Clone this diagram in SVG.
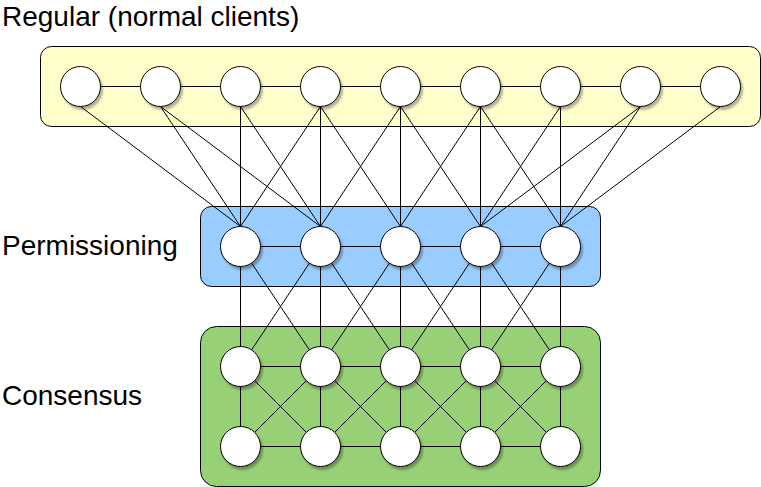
<svg xmlns="http://www.w3.org/2000/svg" width="761" height="487" viewBox="0 0 761 487">
  <style>
    .label { font-family: "Liberation Sans", Arial, sans-serif; font-size: 28px; fill: #000; }
    .box { stroke: #000; stroke-width: 1; }
    .node { fill: #fff; stroke: #000; stroke-width: 1; filter: url(#shadow); }
    .link { stroke: #000; stroke-width: 1; fill: none; }
  </style>
  <defs>
    <filter id="shadow" x="-30%" y="-30%" width="170%" height="170%">
      <feDropShadow dx="2" dy="3" stdDeviation="1" flood-color="#000" flood-opacity="0.3"/>
    </filter>
    <circle id="n" r="20"/>
  </defs>

  <!-- layer labels -->
  <text class="label" x="2" y="26">Regular (normal clients)</text>
  <text class="label" x="2" y="255">Permissioning</text>
  <text class="label" x="2" y="405">Consensus</text>

  <g transform="translate(0.5,0.5)">
    <!-- layer containers -->
    <g id="regular-layer"><rect class="box" x="40" y="46" width="720" height="80" rx="11" fill="#FFFFCC"/></g>
    <g id="permissioning-layer"><rect class="box" x="200" y="206" width="400" height="80" rx="11" fill="#99CCFF"/></g>
    <g id="consensus-layer"><rect class="box" x="200" y="326" width="400" height="160" rx="16" fill="#97D077"/></g>

    <!-- connectors -->
    <g id="connectors" class="link">
      <!-- regular row chain -->
      <path d="M80 86H720"/>
      <!-- regular to permissioning -->
      <path d="M80 106L240 226M160 106L240 226M160 106L320 226M240 106L240 226M240 106L320 226M320 106L240 226M320 106L320 226M320 106L400 226M400 106L320 226M400 106L400 226M400 106L480 226M480 106L400 226M480 106L480 226M480 106L560 226M560 106L480 226M560 106L560 226M640 106L480 226M640 106L560 226M720 106L560 226"/>
      <!-- permissioning row chain -->
      <path d="M240 246H560"/>
      <!-- permissioning to consensus -->
      <path d="M240 246V366M320 246V366M400 246V366M480 246V366M560 246V366"/>
      <path d="M240 246L320 366M320 246L240 366M320 246L400 366M400 246L320 366M400 246L480 366M480 246L400 366M480 246L560 366M560 246L480 366"/>
      <!-- consensus mesh -->
      <path d="M240 366H560M240 446H560"/>
      <path d="M240 366V446M320 366V446M400 366V446M480 366V446M560 366V446"/>
      <path d="M240 366L320 446M320 366L240 446M320 366L400 446M400 366L320 446M400 366L480 446M480 366L400 446M480 366L560 446M560 366L480 446"/>
    </g>

    <!-- regular nodes -->
    <g id="r1"><use href="#n" class="node" x="80" y="86"/></g>
    <g id="r2"><use href="#n" class="node" x="160" y="86"/></g>
    <g id="r3"><use href="#n" class="node" x="240" y="86"/></g>
    <g id="r4"><use href="#n" class="node" x="320" y="86"/></g>
    <g id="r5"><use href="#n" class="node" x="400" y="86"/></g>
    <g id="r6"><use href="#n" class="node" x="480" y="86"/></g>
    <g id="r7"><use href="#n" class="node" x="560" y="86"/></g>
    <g id="r8"><use href="#n" class="node" x="640" y="86"/></g>
    <g id="r9"><use href="#n" class="node" x="720" y="86"/></g>

    <!-- permissioning nodes -->
    <g id="p1"><use href="#n" class="node" x="240" y="246"/></g>
    <g id="p2"><use href="#n" class="node" x="320" y="246"/></g>
    <g id="p3"><use href="#n" class="node" x="400" y="246"/></g>
    <g id="p4"><use href="#n" class="node" x="480" y="246"/></g>
    <g id="p5"><use href="#n" class="node" x="560" y="246"/></g>

    <!-- consensus nodes, upper row -->
    <g id="c1"><use href="#n" class="node" x="240" y="366"/></g>
    <g id="c2"><use href="#n" class="node" x="320" y="366"/></g>
    <g id="c3"><use href="#n" class="node" x="400" y="366"/></g>
    <g id="c4"><use href="#n" class="node" x="480" y="366"/></g>
    <g id="c5"><use href="#n" class="node" x="560" y="366"/></g>
    <!-- consensus nodes, lower row -->
    <g id="c6"><use href="#n" class="node" x="240" y="446"/></g>
    <g id="c7"><use href="#n" class="node" x="320" y="446"/></g>
    <g id="c8"><use href="#n" class="node" x="400" y="446"/></g>
    <g id="c9"><use href="#n" class="node" x="480" y="446"/></g>
    <g id="c10"><use href="#n" class="node" x="560" y="446"/></g>
  </g>
</svg>
